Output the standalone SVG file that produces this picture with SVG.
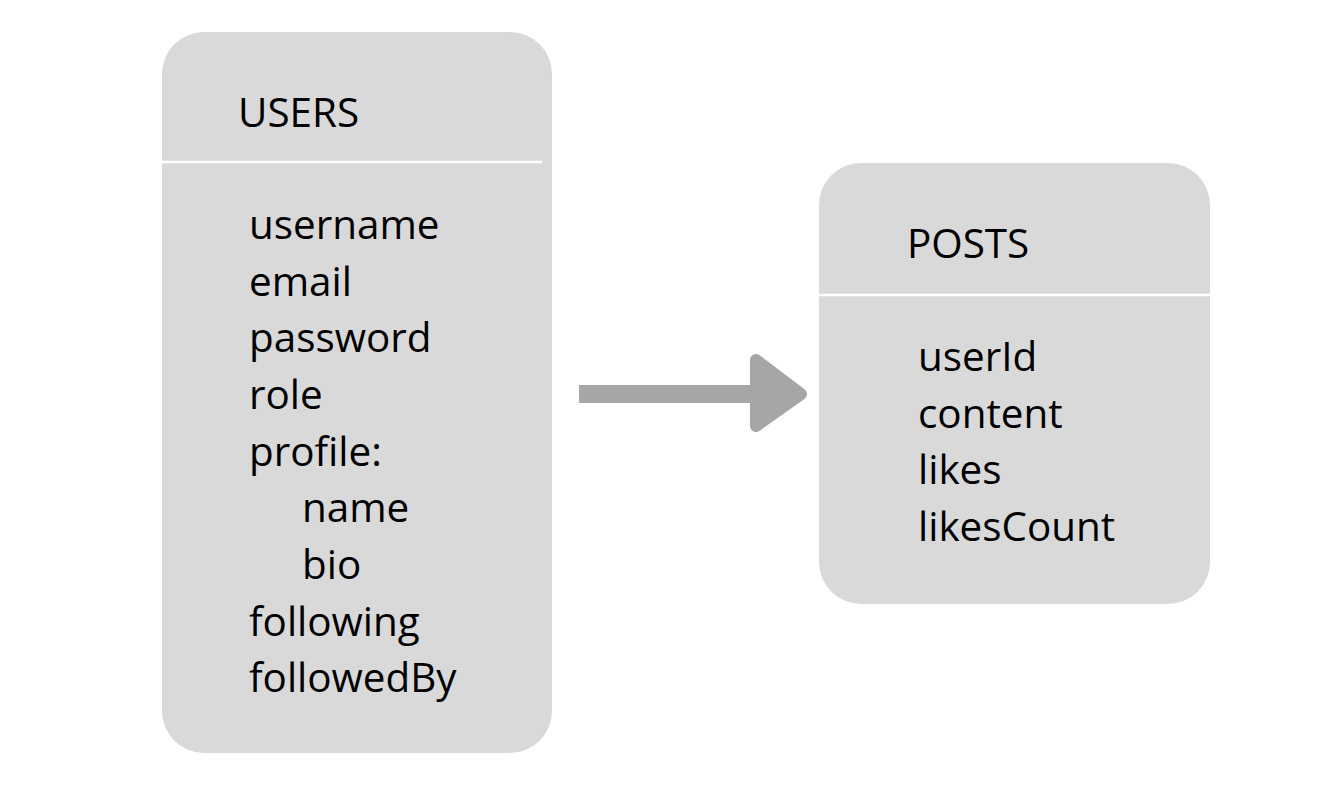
<svg xmlns="http://www.w3.org/2000/svg" width="1340" height="786" viewBox="0 0 1340 786">
<style>
.box{fill:#d9d9d9}
.div{stroke:#ffffff;stroke-width:2.5}
text{font-family:"Open Sans","Noto Sans",sans-serif;font-size:40.4px;fill:#000}
.arrow{fill:#a6a6a6;stroke:#a6a6a6;stroke-linejoin:round}
</style>
<rect width="1340" height="786" fill="#ffffff"/>
<g id="users">
<rect class="box" x="162" y="32" width="390" height="721" rx="42"/>
<line class="div" x1="162" y1="162" x2="542" y2="162"/>
<text x="238" y="127">USERS</text>
<text x="249" y="239">username</text>
<text x="249" y="296">email</text>
<text x="249" y="352">password</text>
<text x="249" y="409">role</text>
<text x="249" y="466">profile:</text>
<text x="302" y="522">name</text>
<text x="302" y="579">bio</text>
<text x="249" y="636">following</text>
<text x="249" y="692">followedBy</text>
</g>
<g id="posts">
<rect class="box" x="819" y="163" width="391" height="441" rx="42"/>
<line class="div" x1="819" y1="295" x2="1210" y2="295"/>
<text x="907" y="258">POSTS</text>
<text x="918" y="371">userId</text>
<text x="918" y="428">content</text>
<text x="918" y="484">likes</text>
<text x="918" y="541">likesCount</text>
</g>
<g id="connectors">
<rect x="579" y="385" width="180" height="18" fill="#a6a6a6"/>
<polygon class="arrow" stroke-width="12" points="756,360 801,394 756,426"/>
</g>
</svg>
